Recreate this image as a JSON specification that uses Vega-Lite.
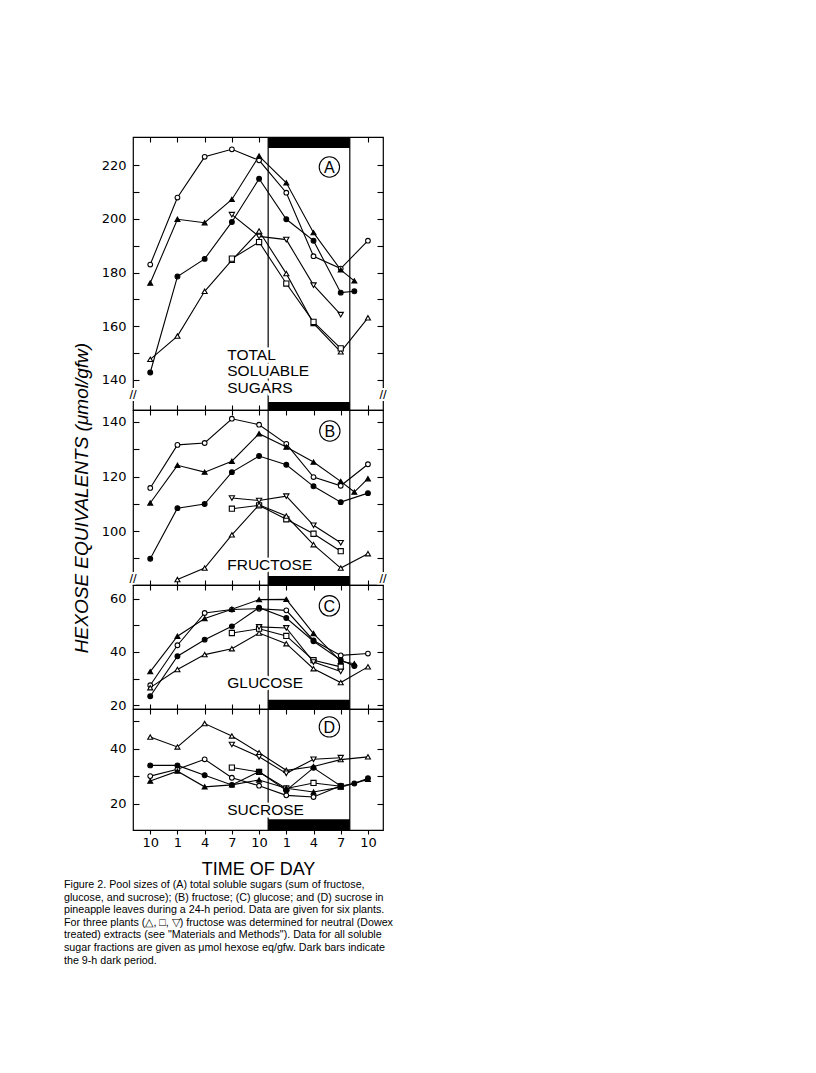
{
  "$schema": "https://vega.github.io/schema/vega-lite/v6.json",
  "background": "white",
  "padding": {"left": 63, "top": 135, "right": 5, "bottom": 5},
  "spacing": 0,
  "bounds": "flush",
  "config": {
    "view": {"stroke": "black", "strokeWidth": 1.2},
    "axis": {"domain": false, "grid": false, "tickColor": "black", "labelColor": "black", "titleColor": "black", "tickWidth": 1.1, "labelOverlap": false, "labelFlush": false},
    "font": "Liberation Sans"
  },
  "datasets": {
    "dark": [{"start": 13, "end": 22}],
    "pts": [
      {"p":"A","s":"oc","t":0,"v":183.0},{"p":"A","s":"oc","t":3,"v":208.0},{"p":"A","s":"oc","t":6,"v":223.2},{"p":"A","s":"oc","t":9,"v":226.0},{"p":"A","s":"oc","t":12,"v":221.9},{"p":"A","s":"oc","t":15,"v":209.8},{"p":"A","s":"oc","t":18,"v":186.1},{"p":"A","s":"oc","t":21,"v":181.5},{"p":"A","s":"oc","t":24,"v":191.9},
      {"p":"A","s":"ft","t":0,"v":176.1},{"p":"A","s":"ft","t":3,"v":199.9},{"p":"A","s":"ft","t":6,"v":198.6},{"p":"A","s":"ft","t":9,"v":207.3},{"p":"A","s":"ft","t":12,"v":223.5},{"p":"A","s":"ft","t":15,"v":213.5},{"p":"A","s":"ft","t":18,"v":194.9},{"p":"A","s":"ft","t":21,"v":181.0},{"p":"A","s":"ft","t":22.5,"v":176.9},
      {"p":"A","s":"fc","t":0,"v":142.7},{"p":"A","s":"fc","t":3,"v":178.5},{"p":"A","s":"fc","t":6,"v":185.1},{"p":"A","s":"fc","t":9,"v":198.9},{"p":"A","s":"fc","t":12,"v":215.0},{"p":"A","s":"fc","t":15,"v":199.9},{"p":"A","s":"fc","t":18,"v":191.9},{"p":"A","s":"fc","t":21,"v":172.5},{"p":"A","s":"fc","t":22.5,"v":173.0},
      {"p":"A","s":"ot","t":0,"v":147.6},{"p":"A","s":"ot","t":3,"v":156.3},{"p":"A","s":"ot","t":6,"v":173.0},{"p":"A","s":"ot","t":9,"v":184.6},{"p":"A","s":"ot","t":12,"v":195.5},{"p":"A","s":"ot","t":15,"v":179.6},{"p":"A","s":"ot","t":18,"v":161.0},{"p":"A","s":"ot","t":21,"v":150.4},{"p":"A","s":"ot","t":24,"v":163.1},
      {"p":"A","s":"os","t":9,"v":185.2},{"p":"A","s":"os","t":12,"v":191.4},{"p":"A","s":"os","t":15,"v":175.9},{"p":"A","s":"os","t":18,"v":161.6},{"p":"A","s":"os","t":21,"v":151.7},
      {"p":"A","s":"od","t":9,"v":201.6},{"p":"A","s":"od","t":12,"v":193.5},{"p":"A","s":"od","t":15,"v":192.3},{"p":"A","s":"od","t":18,"v":175.3},{"p":"A","s":"od","t":21,"v":164.3},

      {"p":"B","s":"oc","t":0,"v":115.8},{"p":"B","s":"oc","t":3,"v":131.6},{"p":"B","s":"oc","t":6,"v":132.3},{"p":"B","s":"oc","t":9,"v":141.2},{"p":"B","s":"oc","t":12,"v":139.0},{"p":"B","s":"oc","t":15,"v":132.0},{"p":"B","s":"oc","t":18,"v":119.8},{"p":"B","s":"oc","t":21,"v":116.6},{"p":"B","s":"oc","t":24,"v":124.5},
      {"p":"B","s":"ft","t":0,"v":110.3},{"p":"B","s":"ft","t":3,"v":124.1},{"p":"B","s":"ft","t":6,"v":121.6},{"p":"B","s":"ft","t":9,"v":125.6},{"p":"B","s":"ft","t":12,"v":135.7},{"p":"B","s":"ft","t":15,"v":130.8},{"p":"B","s":"ft","t":18,"v":125.3},{"p":"B","s":"ft","t":21,"v":118.2},{"p":"B","s":"ft","t":22.5,"v":114.3},{"p":"B","s":"ft","t":24,"v":119.2},
      {"p":"B","s":"fc","t":0,"v":89.8},{"p":"B","s":"fc","t":3,"v":108.4},{"p":"B","s":"fc","t":6,"v":109.9},{"p":"B","s":"fc","t":9,"v":121.6},{"p":"B","s":"fc","t":12,"v":127.5},{"p":"B","s":"fc","t":15,"v":124.3},{"p":"B","s":"fc","t":18,"v":116.4},{"p":"B","s":"fc","t":21,"v":110.6},{"p":"B","s":"fc","t":24,"v":113.9},
      {"p":"B","s":"od","t":9,"v":112.1},{"p":"B","s":"od","t":12,"v":111.2},{"p":"B","s":"od","t":15,"v":112.8},{"p":"B","s":"od","t":18,"v":102.1},{"p":"B","s":"od","t":21,"v":95.7},
      {"p":"B","s":"os","t":9,"v":108.2},{"p":"B","s":"os","t":12,"v":109.4},{"p":"B","s":"os","t":15,"v":104.3},{"p":"B","s":"os","t":18,"v":99.0},{"p":"B","s":"os","t":21,"v":92.6},
      {"p":"B","s":"ot","t":3,"v":82.2},{"p":"B","s":"ot","t":6,"v":86.4},{"p":"B","s":"ot","t":9,"v":98.6},{"p":"B","s":"ot","t":12,"v":109.6},{"p":"B","s":"ot","t":15,"v":105.5},{"p":"B","s":"ot","t":18,"v":95.0},{"p":"B","s":"ot","t":21,"v":86.4},{"p":"B","s":"ot","t":24,"v":91.7},

      {"p":"C","s":"oc","t":0,"v":27.5},{"p":"C","s":"oc","t":3,"v":42.5},{"p":"C","s":"oc","t":6,"v":54.6},{"p":"C","s":"oc","t":9,"v":55.9},{"p":"C","s":"oc","t":12,"v":56.2},{"p":"C","s":"oc","t":15,"v":55.6},{"p":"C","s":"oc","t":18,"v":44.3},{"p":"C","s":"oc","t":21,"v":38.7},{"p":"C","s":"oc","t":24,"v":39.4},
      {"p":"C","s":"ft","t":0,"v":32.6},{"p":"C","s":"ft","t":3,"v":45.9},{"p":"C","s":"ft","t":6,"v":52.5},{"p":"C","s":"ft","t":9,"v":56.0},{"p":"C","s":"ft","t":12,"v":59.6},{"p":"C","s":"ft","t":15,"v":59.7},{"p":"C","s":"ft","t":18,"v":46.9},{"p":"C","s":"ft","t":21,"v":36.5},{"p":"C","s":"ft","t":22.5,"v":35.6},
      {"p":"C","s":"fc","t":0,"v":23.4},{"p":"C","s":"fc","t":3,"v":38.4},{"p":"C","s":"fc","t":6,"v":44.6},{"p":"C","s":"fc","t":9,"v":49.6},{"p":"C","s":"fc","t":12,"v":56.6},{"p":"C","s":"fc","t":15,"v":52.7},{"p":"C","s":"fc","t":18,"v":44.0},{"p":"C","s":"fc","t":21,"v":37.0},{"p":"C","s":"fc","t":22.5,"v":34.7},
      {"p":"C","s":"ot","t":0,"v":26.6},{"p":"C","s":"ot","t":3,"v":33.4},{"p":"C","s":"ot","t":6,"v":39.0},{"p":"C","s":"ot","t":9,"v":41.2},{"p":"C","s":"ot","t":12,"v":47.1},{"p":"C","s":"ot","t":15,"v":43.1},{"p":"C","s":"ot","t":18,"v":33.7},{"p":"C","s":"ot","t":21,"v":28.5},{"p":"C","s":"ot","t":24,"v":34.4},
      {"p":"C","s":"os","t":9,"v":47.1},{"p":"C","s":"os","t":12,"v":48.7},{"p":"C","s":"os","t":15,"v":46.0},{"p":"C","s":"os","t":18,"v":36.9},{"p":"C","s":"os","t":21,"v":34.4},
      {"p":"C","s":"od","t":12,"v":49.4},{"p":"C","s":"od","t":15,"v":49.0},{"p":"C","s":"od","t":18,"v":36.2},{"p":"C","s":"od","t":21,"v":32.7},

      {"p":"D","s":"ot","t":0,"v":44.2},{"p":"D","s":"ot","t":3,"v":40.6},{"p":"D","s":"ot","t":6,"v":49.1},{"p":"D","s":"ot","t":9,"v":44.6},{"p":"D","s":"ot","t":12,"v":38.5},{"p":"D","s":"ot","t":15,"v":32.1},{"p":"D","s":"ot","t":18,"v":33.5},{"p":"D","s":"ot","t":21,"v":36.0},{"p":"D","s":"ot","t":24,"v":37.0},
      {"p":"D","s":"od","t":9,"v":41.5},{"p":"D","s":"od","t":12,"v":37.0},{"p":"D","s":"od","t":15,"v":31.0},{"p":"D","s":"od","t":18,"v":36.1},{"p":"D","s":"od","t":21,"v":36.7},
      {"p":"D","s":"oc","t":0,"v":30.0},{"p":"D","s":"oc","t":3,"v":32.5},{"p":"D","s":"oc","t":6,"v":36.1},{"p":"D","s":"oc","t":9,"v":29.4},{"p":"D","s":"oc","t":12,"v":26.5},{"p":"D","s":"oc","t":15,"v":23.0},{"p":"D","s":"oc","t":18,"v":22.4},{"p":"D","s":"oc","t":21,"v":26.5},
      {"p":"D","s":"os","t":9,"v":33.1},{"p":"D","s":"os","t":12,"v":31.5},{"p":"D","s":"os","t":15,"v":25.5},{"p":"D","s":"os","t":18,"v":27.5},{"p":"D","s":"os","t":21,"v":26.3},
      {"p":"D","s":"fc","t":0,"v":33.9},{"p":"D","s":"fc","t":3,"v":33.9},{"p":"D","s":"fc","t":6,"v":30.3},{"p":"D","s":"fc","t":9,"v":26.8},{"p":"D","s":"fc","t":12,"v":31.6},{"p":"D","s":"fc","t":15,"v":24.8},{"p":"D","s":"fc","t":18,"v":33.0},{"p":"D","s":"fc","t":21,"v":26.4},{"p":"D","s":"fc","t":22.5,"v":27.3},{"p":"D","s":"fc","t":24,"v":29.2},
      {"p":"D","s":"ft","t":0,"v":28.2},{"p":"D","s":"ft","t":3,"v":31.8},{"p":"D","s":"ft","t":6,"v":26.1},{"p":"D","s":"ft","t":9,"v":26.8},{"p":"D","s":"ft","t":12,"v":28.6},{"p":"D","s":"ft","t":15,"v":25.6},{"p":"D","s":"ft","t":18,"v":24.2},{"p":"D","s":"ft","t":21,"v":26.0},{"p":"D","s":"ft","t":24,"v":28.8}
    ]
  },
  "vconcat": [
    {
      "width": 250, "height": 273,
      "resolve": {"axis": {"x": "independent", "y": "independent"}},
      "layer": [
        {"data": {"name": "dark"}, "mark": {"type": "rect", "color": "black"},
         "encoding": {"x": {"field": "start", "type": "quantitative", "scale": {"domain": [-1.9, 25.66], "nice": false, "zero": false}, "axis": null}, "x2": {"field": "end"},
           "y": {"datum": 230.6, "type": "quantitative", "scale": {"domain": [128.7, 230.6], "nice": false, "zero": false}, "axis": null}, "y2": {"datum": 226.5}}},
        {"data": {"name": "dark"}, "mark": {"type": "rect", "color": "black"},
         "encoding": {"x": {"field": "start", "type": "quantitative", "scale": {"domain": [-1.9, 25.66], "nice": false, "zero": false}, "axis": null}, "x2": {"field": "end"},
           "y": {"datum": 131.7, "type": "quantitative", "scale": {"domain": [128.7, 230.6], "nice": false, "zero": false}, "axis": null}, "y2": {"datum": 128.7}}},
        {"data": {"name": "dark"}, "mark": {"type": "rule", "color": "black", "strokeWidth": 1.2},
         "encoding": {"x": {"field": "start", "type": "quantitative", "scale": {"domain": [-1.9, 25.66], "nice": false, "zero": false}, "axis": null}}},
        {"data": {"name": "dark"}, "mark": {"type": "rule", "color": "black", "strokeWidth": 1.2},
         "encoding": {"x": {"field": "end", "type": "quantitative", "scale": {"domain": [-1.9, 25.66], "nice": false, "zero": false}, "axis": null}}},
        {"data": {"values": [{}]}, "mark": {"type": "text", "text": ["TOTAL", "SOLUABLE", "SUGARS"], "fontSize": 15.5, "lineHeight": 16.5, "font": "Liberation Sans", "align": "left", "baseline": "top", "fill": "white", "stroke": "white", "strokeWidth": 5},
         "encoding": {"x": {"datum": 8.49, "type": "quantitative", "scale": {"domain": [-1.9, 25.66], "nice": false, "zero": false}, "axis": null}, "y": {"datum": 152.0, "type": "quantitative", "scale": {"domain": [128.7, 230.6], "nice": false, "zero": false}, "axis": null}}},
        {"data": {"values": [{}]}, "mark": {"type": "text", "text": "//", "fontSize": 13, "font": "Liberation Sans", "align": "center", "baseline": "middle", "fill": "white", "stroke": "white", "strokeWidth": 4},
         "encoding": {"x": {"datum": -1.9, "type": "quantitative", "scale": {"domain": [-1.9, 25.66], "nice": false, "zero": false}, "axis": null}, "y": {"datum": 134.3, "type": "quantitative", "scale": {"domain": [128.7, 230.6], "nice": false, "zero": false}, "axis": null}}},
        {"data": {"values": [{}]}, "mark": {"type": "text", "text": "//", "fontSize": 13, "font": "Liberation Sans", "align": "center", "baseline": "middle", "fill": "white", "stroke": "white", "strokeWidth": 4},
         "encoding": {"x": {"datum": 25.66, "type": "quantitative", "scale": {"domain": [-1.9, 25.66], "nice": false, "zero": false}, "axis": null}, "y": {"datum": 134.3, "type": "quantitative", "scale": {"domain": [128.7, 230.6], "nice": false, "zero": false}, "axis": null}}},
        {"data": {"values": [{}]}, "mark": {"type": "text", "text": "//", "fontSize": 13, "font": "Liberation Sans", "align": "center", "baseline": "middle", "color": "black"},
         "encoding": {"x": {"datum": -1.9, "type": "quantitative", "scale": {"domain": [-1.9, 25.66], "nice": false, "zero": false}, "axis": null}, "y": {"datum": 134.3, "type": "quantitative", "scale": {"domain": [128.7, 230.6], "nice": false, "zero": false}, "axis": null}}},
        {"data": {"values": [{}]}, "mark": {"type": "text", "text": "//", "fontSize": 13, "font": "Liberation Sans", "align": "center", "baseline": "middle", "color": "black"},
         "encoding": {"x": {"datum": 25.66, "type": "quantitative", "scale": {"domain": [-1.9, 25.66], "nice": false, "zero": false}, "axis": null}, "y": {"datum": 134.3, "type": "quantitative", "scale": {"domain": [128.7, 230.6], "nice": false, "zero": false}, "axis": null}}},
        {"data": {"name": "pts"}, "transform": [{"filter": "datum.p === 'A'"}],
         "mark": {"type": "line", "color": "black", "strokeWidth": 1.1},
         "encoding": {
           "x": {"field": "t", "type": "quantitative", "scale": {"domain": [-1.9, 25.66], "nice": false, "zero": false}, "axis": {"orient": "bottom", "labels": false, "tickSize": -5, "values": [0,3,6,9,12,15,18,21,24], "title": null}},
           "y": {"field": "v", "type": "quantitative", "scale": {"domain": [128.7, 230.6], "nice": false, "zero": false}, "axis": {"orient": "left", "values": [140,150,160,170,180,190,200,210,220], "labelExpr": "datum.value % 20 == 0 ? datum.label : ''", "tickSize": -6, "labelPadding": 13, "labelFontSize": 13, "labelFont": "DejaVu Sans", "title": null}},
           "detail": {"field": "s"}}},
        {"data": {"name": "pts"}, "transform": [{"filter": "datum.p === 'A'"}],
         "mark": {"type": "point", "filled": true, "stroke": "black", "strokeWidth": 1.1, "opacity": 1},
         "encoding": {
           "x": {"field": "t", "type": "quantitative", "scale": {"domain": [-1.9, 25.66], "nice": false, "zero": false}, "axis": {"orient": "top", "labels": false, "tickSize": -5, "values": [0,3,6,9,12,15,18,21,24], "title": null}},
           "y": {"field": "v", "type": "quantitative", "scale": {"domain": [128.7, 230.6], "nice": false, "zero": false}, "axis": {"orient": "right", "labels": false, "tickSize": -6, "values": [140,150,160,170,180,190,200,210,220], "title": null}},
           "shape": {"field": "s", "type": "nominal", "scale": {"domain": ["oc","fc","ft","ot","os","od"], "range": ["circle","circle","triangle-up","triangle-up","square","triangle-down"]}, "legend": null},
           "fill": {"field": "s", "type": "nominal", "scale": {"domain": ["oc","fc","ft","ot","os","od"], "range": ["white","black","black","white","white","white"]}, "legend": null},
           "size": {"field": "s", "type": "nominal", "scale": {"domain": ["oc","fc","ft","ot","os","od"], "range": [22,28,50,55,26,55]}, "legend": null}}},
        {"data": {"values": [{}]}, "mark": {"type": "point", "shape": "circle", "filled": false, "stroke": "black", "strokeWidth": 1.1, "opacity": 1, "size": 415},
         "encoding": {"x": {"datum": 19.75, "type": "quantitative", "scale": {"domain": [-1.9, 25.66], "nice": false, "zero": false}, "axis": null}, "y": {"datum": 219.4, "type": "quantitative", "scale": {"domain": [128.7, 230.6], "nice": false, "zero": false}, "axis": null}}},
        {"data": {"values": [{}]}, "mark": {"type": "text", "text": "A", "fontSize": 16, "font": "Liberation Sans", "align": "center", "baseline": "middle", "color": "black", "dy": 1},
         "encoding": {"x": {"datum": 19.75, "type": "quantitative", "scale": {"domain": [-1.9, 25.66], "nice": false, "zero": false}, "axis": null}, "y": {"datum": 219.4, "type": "quantitative", "scale": {"domain": [128.7, 230.6], "nice": false, "zero": false}, "axis": null}}},
        {"data": {"values": [{}]}, "mark": {"type": "text", "text": ["TOTAL", "SOLUABLE", "SUGARS"], "fontSize": 15.5, "lineHeight": 16.5, "font": "Liberation Sans", "align": "left", "baseline": "top", "color": "black"},
         "encoding": {"x": {"datum": 8.49, "type": "quantitative", "scale": {"domain": [-1.9, 25.66], "nice": false, "zero": false}, "axis": null}, "y": {"datum": 152.0, "type": "quantitative", "scale": {"domain": [128.7, 230.6], "nice": false, "zero": false}, "axis": null}}}
      ]
    },
    {
      "width": 250, "height": 175,
      "resolve": {"axis": {"x": "independent", "y": "independent"}},
      "layer": [
        {"data": {"name": "dark"}, "mark": {"type": "rect", "color": "black"},
         "encoding": {"x": {"field": "start", "type": "quantitative", "scale": {"domain": [-1.9, 25.66], "nice": false, "zero": false}, "axis": null}, "x2": {"field": "end"},
           "y": {"datum": 83.5, "type": "quantitative", "scale": {"domain": [80.2, 144.4], "nice": false, "zero": false}, "axis": null}, "y2": {"datum": 80.2}}},
        {"data": {"name": "dark"}, "mark": {"type": "rule", "color": "black", "strokeWidth": 1.2},
         "encoding": {"x": {"field": "start", "type": "quantitative", "scale": {"domain": [-1.9, 25.66], "nice": false, "zero": false}, "axis": null}}},
        {"data": {"name": "dark"}, "mark": {"type": "rule", "color": "black", "strokeWidth": 1.2},
         "encoding": {"x": {"field": "end", "type": "quantitative", "scale": {"domain": [-1.9, 25.66], "nice": false, "zero": false}, "axis": null}}},
        {"data": {"values": [{}]}, "mark": {"type": "text", "text": "FRUCTOSE", "fontSize": 15.5, "font": "Liberation Sans", "align": "left", "baseline": "top", "fill": "white", "stroke": "white", "strokeWidth": 5},
         "encoding": {"x": {"datum": 8.49, "type": "quantitative", "scale": {"domain": [-1.9, 25.66], "nice": false, "zero": false}, "axis": null}, "y": {"datum": 90.0, "type": "quantitative", "scale": {"domain": [80.2, 144.4], "nice": false, "zero": false}, "axis": null}}},
        {"data": {"values": [{}]}, "mark": {"type": "text", "text": "//", "fontSize": 13, "font": "Liberation Sans", "align": "center", "baseline": "middle", "fill": "white", "stroke": "white", "strokeWidth": 4},
         "encoding": {"x": {"datum": -1.9, "type": "quantitative", "scale": {"domain": [-1.9, 25.66], "nice": false, "zero": false}, "axis": null}, "y": {"datum": 82.4, "type": "quantitative", "scale": {"domain": [80.2, 144.4], "nice": false, "zero": false}, "axis": null}}},
        {"data": {"values": [{}]}, "mark": {"type": "text", "text": "//", "fontSize": 13, "font": "Liberation Sans", "align": "center", "baseline": "middle", "fill": "white", "stroke": "white", "strokeWidth": 4},
         "encoding": {"x": {"datum": 25.66, "type": "quantitative", "scale": {"domain": [-1.9, 25.66], "nice": false, "zero": false}, "axis": null}, "y": {"datum": 82.4, "type": "quantitative", "scale": {"domain": [80.2, 144.4], "nice": false, "zero": false}, "axis": null}}},
        {"data": {"values": [{}]}, "mark": {"type": "text", "text": "//", "fontSize": 13, "font": "Liberation Sans", "align": "center", "baseline": "middle", "color": "black"},
         "encoding": {"x": {"datum": -1.9, "type": "quantitative", "scale": {"domain": [-1.9, 25.66], "nice": false, "zero": false}, "axis": null}, "y": {"datum": 82.4, "type": "quantitative", "scale": {"domain": [80.2, 144.4], "nice": false, "zero": false}, "axis": null}}},
        {"data": {"values": [{}]}, "mark": {"type": "text", "text": "//", "fontSize": 13, "font": "Liberation Sans", "align": "center", "baseline": "middle", "color": "black"},
         "encoding": {"x": {"datum": 25.66, "type": "quantitative", "scale": {"domain": [-1.9, 25.66], "nice": false, "zero": false}, "axis": null}, "y": {"datum": 82.4, "type": "quantitative", "scale": {"domain": [80.2, 144.4], "nice": false, "zero": false}, "axis": null}}},
        {"data": {"name": "pts"}, "transform": [{"filter": "datum.p === 'B'"}],
         "mark": {"type": "line", "color": "black", "strokeWidth": 1.1},
         "encoding": {
           "x": {"field": "t", "type": "quantitative", "scale": {"domain": [-1.9, 25.66], "nice": false, "zero": false}, "axis": {"orient": "bottom", "labels": false, "tickSize": -5, "values": [0,3,6,9,12,15,18,21,24], "title": null}},
           "y": {"field": "v", "type": "quantitative", "scale": {"domain": [80.2, 144.4], "nice": false, "zero": false}, "axis": {"orient": "left", "values": [90,100,110,120,130,140], "labelExpr": "datum.value % 20 == 0 ? datum.label : ''", "tickSize": -6, "labelPadding": 13, "labelFontSize": 13, "labelFont": "DejaVu Sans", "title": "HEXOSE EQUIVALENTS (μmol/gfw)", "titleFontSize": 19, "titleFontStyle": "italic", "titleFont": "Liberation Sans", "titleFontWeight": "normal", "titlePadding": 10, "titleLimit": 600}},
           "detail": {"field": "s"}}},
        {"data": {"name": "pts"}, "transform": [{"filter": "datum.p === 'B'"}],
         "mark": {"type": "point", "filled": true, "stroke": "black", "strokeWidth": 1.1, "opacity": 1},
         "encoding": {
           "x": {"field": "t", "type": "quantitative", "scale": {"domain": [-1.9, 25.66], "nice": false, "zero": false}, "axis": {"orient": "top", "labels": false, "tickSize": -5, "values": [0,3,6,9,12,15,18,21,24], "title": null}},
           "y": {"field": "v", "type": "quantitative", "scale": {"domain": [80.2, 144.4], "nice": false, "zero": false}, "axis": {"orient": "right", "labels": false, "tickSize": -6, "values": [90,100,110,120,130,140], "title": null}},
           "shape": {"field": "s", "type": "nominal", "scale": {"domain": ["oc","fc","ft","ot","os","od"], "range": ["circle","circle","triangle-up","triangle-up","square","triangle-down"]}, "legend": null},
           "fill": {"field": "s", "type": "nominal", "scale": {"domain": ["oc","fc","ft","ot","os","od"], "range": ["white","black","black","white","white","white"]}, "legend": null},
           "size": {"field": "s", "type": "nominal", "scale": {"domain": ["oc","fc","ft","ot","os","od"], "range": [22,28,50,55,26,55]}, "legend": null}}},
        {"data": {"values": [{}]}, "mark": {"type": "point", "shape": "circle", "filled": false, "stroke": "black", "strokeWidth": 1.1, "opacity": 1, "size": 415},
         "encoding": {"x": {"datum": 19.8, "type": "quantitative", "scale": {"domain": [-1.9, 25.66], "nice": false, "zero": false}, "axis": null}, "y": {"datum": 136.7, "type": "quantitative", "scale": {"domain": [80.2, 144.4], "nice": false, "zero": false}, "axis": null}}},
        {"data": {"values": [{}]}, "mark": {"type": "text", "text": "B", "fontSize": 16, "font": "Liberation Sans", "align": "center", "baseline": "middle", "color": "black", "dy": 1},
         "encoding": {"x": {"datum": 19.8, "type": "quantitative", "scale": {"domain": [-1.9, 25.66], "nice": false, "zero": false}, "axis": null}, "y": {"datum": 136.7, "type": "quantitative", "scale": {"domain": [80.2, 144.4], "nice": false, "zero": false}, "axis": null}}},
        {"data": {"values": [{}]}, "mark": {"type": "text", "text": "FRUCTOSE", "fontSize": 15.5, "font": "Liberation Sans", "align": "left", "baseline": "top", "color": "black"},
         "encoding": {"x": {"datum": 8.49, "type": "quantitative", "scale": {"domain": [-1.9, 25.66], "nice": false, "zero": false}, "axis": null}, "y": {"datum": 90.0, "type": "quantitative", "scale": {"domain": [80.2, 144.4], "nice": false, "zero": false}, "axis": null}}}
      ]
    },
    {
      "width": 250, "height": 124,
      "resolve": {"axis": {"x": "independent", "y": "independent"}},
      "layer": [
        {"data": {"name": "dark"}, "mark": {"type": "rect", "color": "black"},
         "encoding": {"x": {"field": "start", "type": "quantitative", "scale": {"domain": [-1.9, 25.66], "nice": false, "zero": false}, "axis": null}, "x2": {"field": "end"},
           "y": {"datum": 22.1, "type": "quantitative", "scale": {"domain": [18.6, 65.1], "nice": false, "zero": false}, "axis": null}, "y2": {"datum": 18.6}}},
        {"data": {"name": "dark"}, "mark": {"type": "rule", "color": "black", "strokeWidth": 1.2},
         "encoding": {"x": {"field": "start", "type": "quantitative", "scale": {"domain": [-1.9, 25.66], "nice": false, "zero": false}, "axis": null}}},
        {"data": {"name": "dark"}, "mark": {"type": "rule", "color": "black", "strokeWidth": 1.2},
         "encoding": {"x": {"field": "end", "type": "quantitative", "scale": {"domain": [-1.9, 25.66], "nice": false, "zero": false}, "axis": null}}},
        {"data": {"values": [{}]}, "mark": {"type": "text", "text": "GLUCOSE", "fontSize": 15.5, "font": "Liberation Sans", "align": "left", "baseline": "top", "fill": "white", "stroke": "white", "strokeWidth": 5},
         "encoding": {"x": {"datum": 8.49, "type": "quantitative", "scale": {"domain": [-1.9, 25.66], "nice": false, "zero": false}, "axis": null}, "y": {"datum": 31.0, "type": "quantitative", "scale": {"domain": [18.6, 65.1], "nice": false, "zero": false}, "axis": null}}},
        {"data": {"name": "pts"}, "transform": [{"filter": "datum.p === 'C'"}],
         "mark": {"type": "line", "color": "black", "strokeWidth": 1.1},
         "encoding": {
           "x": {"field": "t", "type": "quantitative", "scale": {"domain": [-1.9, 25.66], "nice": false, "zero": false}, "axis": {"orient": "bottom", "labels": false, "tickSize": -5, "values": [0,3,6,9,12,15,18,21,24], "title": null}},
           "y": {"field": "v", "type": "quantitative", "scale": {"domain": [18.6, 65.1], "nice": false, "zero": false}, "axis": {"orient": "left", "values": [20,30,40,50,60], "labelExpr": "datum.value % 20 == 0 ? datum.label : ''", "tickSize": -6, "labelPadding": 13, "labelFontSize": 13, "labelFont": "DejaVu Sans", "title": null}},
           "detail": {"field": "s"}}},
        {"data": {"name": "pts"}, "transform": [{"filter": "datum.p === 'C'"}],
         "mark": {"type": "point", "filled": true, "stroke": "black", "strokeWidth": 1.1, "opacity": 1},
         "encoding": {
           "x": {"field": "t", "type": "quantitative", "scale": {"domain": [-1.9, 25.66], "nice": false, "zero": false}, "axis": {"orient": "top", "labels": false, "tickSize": -5, "values": [0,3,6,9,12,15,18,21,24], "title": null}},
           "y": {"field": "v", "type": "quantitative", "scale": {"domain": [18.6, 65.1], "nice": false, "zero": false}, "axis": {"orient": "right", "labels": false, "tickSize": -6, "values": [20,30,40,50,60], "title": null}},
           "shape": {"field": "s", "type": "nominal", "scale": {"domain": ["oc","fc","ft","ot","os","od"], "range": ["circle","circle","triangle-up","triangle-up","square","triangle-down"]}, "legend": null},
           "fill": {"field": "s", "type": "nominal", "scale": {"domain": ["oc","fc","ft","ot","os","od"], "range": ["white","black","black","white","white","white"]}, "legend": null},
           "size": {"field": "s", "type": "nominal", "scale": {"domain": ["oc","fc","ft","ot","os","od"], "range": [22,28,50,55,26,55]}, "legend": null}}},
        {"data": {"values": [{}]}, "mark": {"type": "point", "shape": "circle", "filled": false, "stroke": "black", "strokeWidth": 1.1, "opacity": 1, "size": 415},
         "encoding": {"x": {"datum": 19.75, "type": "quantitative", "scale": {"domain": [-1.9, 25.66], "nice": false, "zero": false}, "axis": null}, "y": {"datum": 57.3, "type": "quantitative", "scale": {"domain": [18.6, 65.1], "nice": false, "zero": false}, "axis": null}}},
        {"data": {"values": [{}]}, "mark": {"type": "text", "text": "C", "fontSize": 16, "font": "Liberation Sans", "align": "center", "baseline": "middle", "color": "black", "dy": 1},
         "encoding": {"x": {"datum": 19.75, "type": "quantitative", "scale": {"domain": [-1.9, 25.66], "nice": false, "zero": false}, "axis": null}, "y": {"datum": 57.3, "type": "quantitative", "scale": {"domain": [18.6, 65.1], "nice": false, "zero": false}, "axis": null}}},
        {"data": {"values": [{}]}, "mark": {"type": "text", "text": "GLUCOSE", "fontSize": 15.5, "font": "Liberation Sans", "align": "left", "baseline": "top", "color": "black"},
         "encoding": {"x": {"datum": 8.49, "type": "quantitative", "scale": {"domain": [-1.9, 25.66], "nice": false, "zero": false}, "axis": null}, "y": {"datum": 31.0, "type": "quantitative", "scale": {"domain": [18.6, 65.1], "nice": false, "zero": false}, "axis": null}}}
      ]
    },
    {
      "width": 250, "height": 121,
      "resolve": {"axis": {"x": "independent", "y": "independent"}},
      "title": {"text": ["Figure 2. Pool sizes of (A) total soluble sugars (sum of fructose,", "glucose, and sucrose); (B) fructose; (C) glucose; and (D) sucrose in", "pineapple leaves during a 24-h period. Data are given for six plants.", "For three plants (△, □, ▽) fructose was determined for neutral (Dowex", "treated) extracts (see \"Materials and Methods\"). Data for all soluble", "sugar fractions are given as μmol hexose eq/gfw. Dark bars indicate", "the 9-h dark period."], "orient": "bottom", "anchor": "start", "frame": "group", "dx": -69, "fontSize": 10.7, "font": "Liberation Sans", "fontWeight": "normal", "lineHeight": 12.6, "offset": 2, "color": "black", "limit": 0},
      "layer": [
        {"data": {"name": "dark"}, "mark": {"type": "rect", "color": "black"},
         "encoding": {"x": {"field": "start", "type": "quantitative", "scale": {"domain": [-1.9, 25.66], "nice": false, "zero": false}, "axis": null}, "x2": {"field": "end"},
           "y": {"datum": 14.3, "type": "quantitative", "scale": {"domain": [10.4, 54.4], "nice": false, "zero": false}, "axis": null}, "y2": {"datum": 10.4}}},
        {"data": {"name": "dark"}, "mark": {"type": "rule", "color": "black", "strokeWidth": 1.2},
         "encoding": {"x": {"field": "start", "type": "quantitative", "scale": {"domain": [-1.9, 25.66], "nice": false, "zero": false}, "axis": null}}},
        {"data": {"name": "dark"}, "mark": {"type": "rule", "color": "black", "strokeWidth": 1.2},
         "encoding": {"x": {"field": "end", "type": "quantitative", "scale": {"domain": [-1.9, 25.66], "nice": false, "zero": false}, "axis": null}}},
        {"data": {"values": [{}]}, "mark": {"type": "text", "text": "SUCROSE", "fontSize": 15.5, "font": "Liberation Sans", "align": "left", "baseline": "top", "fill": "white", "stroke": "white", "strokeWidth": 5},
         "encoding": {"x": {"datum": 8.49, "type": "quantitative", "scale": {"domain": [-1.9, 25.66], "nice": false, "zero": false}, "axis": null}, "y": {"datum": 20.4, "type": "quantitative", "scale": {"domain": [10.4, 54.4], "nice": false, "zero": false}, "axis": null}}},
        {"data": {"name": "pts"}, "transform": [{"filter": "datum.p === 'D'"}],
         "mark": {"type": "line", "color": "black", "strokeWidth": 1.1},
         "encoding": {
           "x": {"field": "t", "type": "quantitative", "scale": {"domain": [-1.9, 25.66], "nice": false, "zero": false}, "axis": {"orient": "bottom", "values": [0,3,6,9,12,15,18,21,24], "labelExpr": "(10 + datum.value) % 12", "tickSize": 4, "labelPadding": 2, "labelFontSize": 13, "labelFont": "DejaVu Sans", "title": "TIME OF DAY", "titleFontSize": 18, "titleFont": "Liberation Sans", "titleFontWeight": "normal", "titlePadding": 11}},
           "y": {"field": "v", "type": "quantitative", "scale": {"domain": [10.4, 54.4], "nice": false, "zero": false}, "axis": {"orient": "left", "values": [20,30,40,50], "labelExpr": "datum.value % 20 == 0 ? datum.label : ''", "tickSize": -6, "labelPadding": 13, "labelFontSize": 13, "labelFont": "DejaVu Sans", "title": null}},
           "detail": {"field": "s"}}},
        {"data": {"name": "pts"}, "transform": [{"filter": "datum.p === 'D'"}],
         "mark": {"type": "point", "filled": true, "stroke": "black", "strokeWidth": 1.1, "opacity": 1},
         "encoding": {
           "x": {"field": "t", "type": "quantitative", "scale": {"domain": [-1.9, 25.66], "nice": false, "zero": false}, "axis": {"orient": "top", "labels": false, "tickSize": -5, "values": [0,3,6,9,12,15,18,21,24], "title": null}},
           "y": {"field": "v", "type": "quantitative", "scale": {"domain": [10.4, 54.4], "nice": false, "zero": false}, "axis": {"orient": "right", "labels": false, "tickSize": -6, "values": [20,30,40,50], "title": null}},
           "shape": {"field": "s", "type": "nominal", "scale": {"domain": ["oc","fc","ft","ot","os","od"], "range": ["circle","circle","triangle-up","triangle-up","square","triangle-down"]}, "legend": null},
           "fill": {"field": "s", "type": "nominal", "scale": {"domain": ["oc","fc","ft","ot","os","od"], "range": ["white","black","black","white","white","white"]}, "legend": null},
           "size": {"field": "s", "type": "nominal", "scale": {"domain": ["oc","fc","ft","ot","os","od"], "range": [22,28,50,55,26,55]}, "legend": null}}},
        {"data": {"values": [{}]}, "mark": {"type": "point", "shape": "circle", "filled": false, "stroke": "black", "strokeWidth": 1.1, "opacity": 1, "size": 415},
         "encoding": {"x": {"datum": 19.75, "type": "quantitative", "scale": {"domain": [-1.9, 25.66], "nice": false, "zero": false}, "axis": null}, "y": {"datum": 47.9, "type": "quantitative", "scale": {"domain": [10.4, 54.4], "nice": false, "zero": false}, "axis": null}}},
        {"data": {"values": [{}]}, "mark": {"type": "text", "text": "D", "fontSize": 16, "font": "Liberation Sans", "align": "center", "baseline": "middle", "color": "black", "dy": 1},
         "encoding": {"x": {"datum": 19.75, "type": "quantitative", "scale": {"domain": [-1.9, 25.66], "nice": false, "zero": false}, "axis": null}, "y": {"datum": 47.9, "type": "quantitative", "scale": {"domain": [10.4, 54.4], "nice": false, "zero": false}, "axis": null}}},
        {"data": {"values": [{}]}, "mark": {"type": "text", "text": "SUCROSE", "fontSize": 15.5, "font": "Liberation Sans", "align": "left", "baseline": "top", "color": "black"},
         "encoding": {"x": {"datum": 8.49, "type": "quantitative", "scale": {"domain": [-1.9, 25.66], "nice": false, "zero": false}, "axis": null}, "y": {"datum": 20.4, "type": "quantitative", "scale": {"domain": [10.4, 54.4], "nice": false, "zero": false}, "axis": null}}}
      ]
    }
  ]
}
